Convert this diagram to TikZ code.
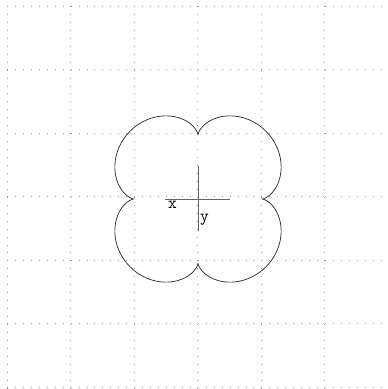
\documentclass[tikz,border=0pt]{standalone}
\begin{document}
\begin{tikzpicture}[x=1pt,y=-1pt,
  gridline/.style={draw=gray!80, line width=1pt, dash pattern=on 1pt off 6.95pt},
  axisline/.style={draw=black!60, line width=1pt},
  curveline/.style={draw=black!85, line width=0.7pt},
  lbl/.style={inner sep=0pt, font=\ttfamily\fontsize{17}{17}\selectfont}]
\useasboundingbox (0,0) rectangle (388,389);
\fill[white] (0,0) rectangle (388,389);
% grid
\foreach \k in {0,...,6} {
  \draw[gridline] (7+63.5*\k,6) -- (7+63.5*\k,389);
  \draw[gridline] (7,6+63.5*\k) -- (388,6+63.5*\k);
}
% epicycloid
\coordinate (c) at (198,199);
\draw[curveline] plot[domain=0:360, samples=500, variable=\t]
  ({198+80*cos(\t)-16*cos(5*\t)}, {199+80*sin(\t)-16*sin(5*\t)}) -- cycle;
% axes
\coordinate (xl) at (165,199);
\coordinate (xr) at (230,199);
\coordinate (yt) at (198,166);
\coordinate (yb) at (198,231);
\draw[axisline] (xl) -- (xr);
\draw[axisline] (yt) -- (yb);
\node[lbl] (xlab) at (172.5,205) {x};
\node[lbl] (ylab) at (204.5,220) {y};
\end{tikzpicture}
\end{document}
